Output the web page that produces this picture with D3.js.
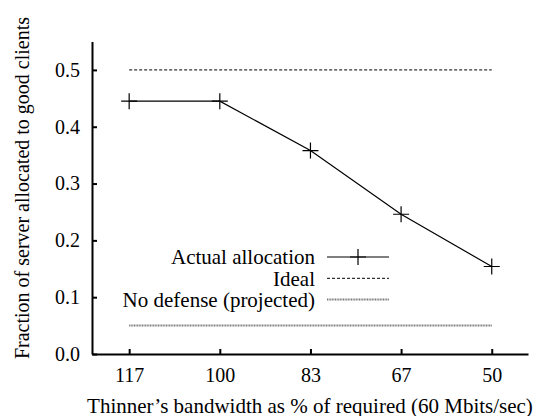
<!DOCTYPE html>
<html>
<head>
<meta charset="utf-8">
<script src="https://cdn.jsdelivr.net/npm/d3@7"></script>
</head>
<body>
<svg></svg>
<script>
// data
let categories = ['117', '100', '83', '67', '50']
let actual = [0.445, 0.445, 0.358, 0.246, 0.154]
let ideal = [0.5, 0.5, 0.5, 0.5, 0.5]
let noDefense = [0.05, 0.05, 0.05, 0.05, 0.05]
let yTicks = [0.0, 0.1, 0.2, 0.3, 0.4, 0.5]

d3.select('body').style('margin', '0px').style('background', '#fff')
let svg = d3.select('svg').attr('width', 541).attr('height', 416)

let x = d3.scaleLinear().domain([-0.41, 4.4]).range([92, 528])
let y = d3.scaleLinear().domain([0, 0.55]).range([354, 41.5])

// axes (gnuplot style, ticks pointing inward)
let xAxis = d3.axisBottom(x).tickValues(d3.range(categories.length))
  .tickFormat(i => categories[i]).tickSizeInner(-5).tickSizeOuter(0).tickPadding(14)
let yAxis = d3.axisLeft(y).tickValues(yTicks)
  .tickFormat(d3.format('.1f')).tickSizeInner(-5).tickSizeOuter(0).tickPadding(12)

let gx = svg.append('g').attr('transform', 'translate(0,354)').call(xAxis)
let gy = svg.append('g').attr('transform', 'translate(92,0)').call(yAxis)
;[gx, gy].forEach(g => {
  g.select('.domain').attr('stroke', '#000').attr('stroke-width', 2)
  g.selectAll('.tick line').attr('stroke', '#000').attr('stroke-width', 2)
  g.selectAll('.tick text').attr('fill', '#000')
})

// axis titles
svg.append('text').attr('x', 310).attr('y', 413).attr('text-anchor', 'middle')
  .attr('data-size', 21)
  .text('Thinner\u2019s bandwidth as % of required (60 Mbits/sec)')
svg.append('text').attr('transform', 'translate(22,188) rotate(-90)').attr('text-anchor', 'middle')
  .attr('dy', '0.35em').attr('data-size', 20)
  .text('Fraction of server allocated to good clients')

let line = d3.line().x((d, i) => x(i)).y(d => y(d))

svg.append('path').attr('d', line(ideal)).attr('fill', 'none')
  .attr('stroke', '#000').attr('stroke-width', 1).attr('stroke-dasharray', '3,2')
svg.append('path').attr('d', line(noDefense)).attr('fill', 'none')
  .attr('stroke', '#777').attr('stroke-width', 2).attr('stroke-dasharray', '1,0.6')
svg.append('path').attr('d', line(actual)).attr('fill', 'none')
  .attr('stroke', '#000').attr('stroke-width', 1.2)

let plusPath = 'M-8,0H8M0,-8V8'
svg.selectAll('.pt').data(actual).enter().append('path')
  .attr('class', 'pt')
  .attr('d', plusPath)
  .attr('transform', (d, i) => 'translate(' + x(i) + ',' + y(d) + ')')
  .attr('stroke', '#000').attr('stroke-width', 1.2)

// legend
let legend = [
  {name: 'Actual allocation', stroke: '#000', width: 1.2, dash: null, mark: true},
  {name: 'Ideal', stroke: '#000', width: 1, dash: '3,2', mark: false},
  {name: 'No defense (projected)', stroke: '#777', width: 2, dash: '1,0.6', mark: false}
]
let lg = svg.selectAll('.lg').data(legend).enter().append('g')
  .attr('transform', (d, i) => 'translate(0,' + (257 + i * 21.3) + ')')
lg.append('text').attr('x', 315).attr('dy', '0.35em').attr('text-anchor', 'end')
  .attr('data-size', 21).text(d => d.name)
lg.append('line').attr('x1', 327).attr('x2', 389)
  .attr('stroke', d => d.stroke).attr('stroke-width', d => d.width)
  .attr('stroke-dasharray', d => d.dash)
lg.filter(d => d.mark).append('path').attr('d', plusPath)
  .attr('transform', 'translate(358,0)').attr('stroke', '#000').attr('stroke-width', 1.2)

// serif font on every text, forced inline so nothing else overrides it
svg.selectAll('g').attr('font-family', null).attr('font-size', null)
svg.selectAll('text').each(function() {
  let size = (this.getAttribute('data-size') || 20) + 'px'
  this.setAttribute('font-family', 'Liberation Serif')
  this.style.setProperty('font-family', "'Liberation Serif', 'Times New Roman', Tinos", 'important')
  this.style.setProperty('font-size', size, 'important')
})
</script>
</body>
</html>
